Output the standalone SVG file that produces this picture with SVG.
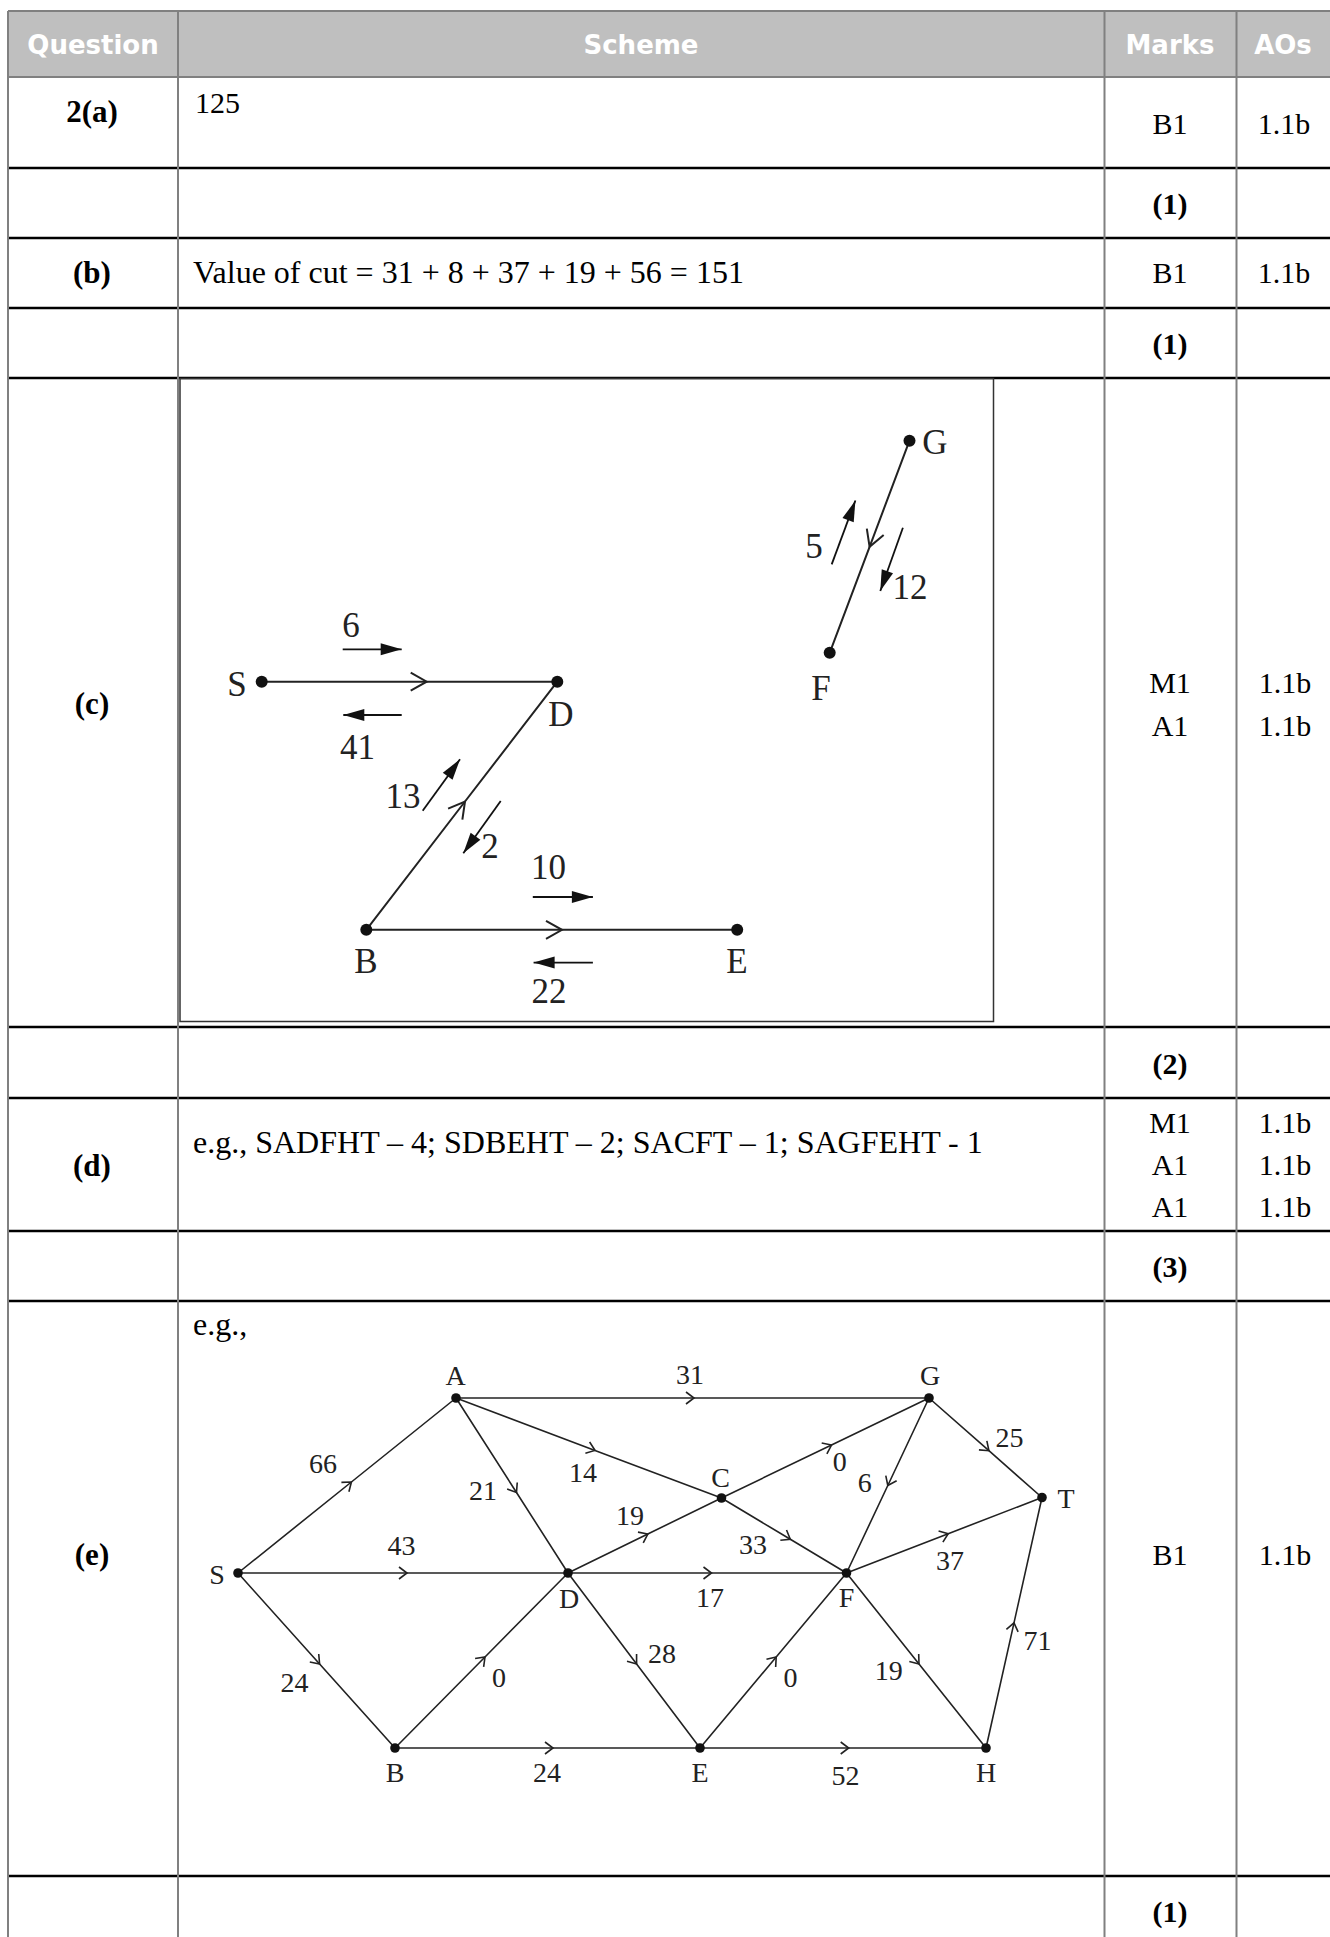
<svg xmlns="http://www.w3.org/2000/svg" width="1330" height="1937" viewBox="0 0 1330 1937">
<style>
.hd{font-family:"DejaVu Sans",sans-serif;font-size:26px;font-weight:bold;fill:#ffffff;text-anchor:middle}
.t{font-family:"Liberation Serif","Times New Roman",serif;font-size:32px;fill:#000}
.m{font-family:"Liberation Serif","Times New Roman",serif;font-size:30px;fill:#000;text-anchor:middle}
.q{font-family:"Liberation Serif","Times New Roman",serif;font-size:31px;font-weight:bold;fill:#000;text-anchor:middle}
.hl{stroke:#000;stroke-width:2.5}
.vl{stroke:#808080;stroke-width:2}
.gl{stroke:#808080;stroke-width:2}
.c{font-family:"Liberation Serif","Times New Roman",serif;font-size:35px;fill:#222;text-anchor:middle}
.e{font-family:"Liberation Serif","Times New Roman",serif;font-size:28px;fill:#222;text-anchor:middle}
.ce{fill:none;stroke:#222;stroke-width:2}
.ee{fill:none;stroke:#222;stroke-width:1.6}
.fa{fill:none;stroke:#111;stroke-width:1.8}
</style>
<defs>
<marker id="chevE" markerUnits="userSpaceOnUse" markerWidth="20" markerHeight="20" refX="0" refY="0" viewBox="-10 -10 20 20" orient="auto" overflow="visible">
<path d="M-8,-6 L0,0 L-8,6" fill="none" stroke="#222" stroke-width="1.6"/>
</marker>
<marker id="chevC" markerUnits="userSpaceOnUse" markerWidth="40" markerHeight="40" refX="0" refY="0" viewBox="-20 -20 40 40" orient="auto" overflow="visible">
<path d="M-16,-9 L0,0 L-16,9" fill="none" stroke="#222" stroke-width="2"/>
</marker>
<marker id="fill" markerUnits="userSpaceOnUse" markerWidth="40" markerHeight="40" refX="0" refY="0" viewBox="-20 -20 40 40" orient="auto" overflow="visible">
<path d="M0,0 L-21,-6 L-21,6 Z" fill="#111"/>
</marker>
</defs>

<g id="table">
<rect x="8" y="11" width="1322" height="66" fill="#bfbfbf"/>
<line class="gl" x1="8" y1="11" x2="1330" y2="11"/>
<line class="gl" x1="8" y1="77" x2="1330" y2="77"/>
<line class="hl" x1="8" y1="168" x2="1330" y2="168"/>
<line class="hl" x1="8" y1="238" x2="1330" y2="238"/>
<line class="hl" x1="8" y1="308" x2="1330" y2="308"/>
<line class="hl" x1="8" y1="378" x2="1330" y2="378"/>
<line class="hl" x1="8" y1="1027" x2="1330" y2="1027"/>
<line class="hl" x1="8" y1="1098" x2="1330" y2="1098"/>
<line class="hl" x1="8" y1="1231" x2="1330" y2="1231"/>
<line class="hl" x1="8" y1="1301" x2="1330" y2="1301"/>
<line class="hl" x1="8" y1="1876" x2="1330" y2="1876"/>
<line class="vl" x1="8" y1="11" x2="8" y2="1937"/>
<line class="vl" x1="178" y1="11" x2="178" y2="1937"/>
<line class="vl" x1="1104.5" y1="11" x2="1104.5" y2="1937"/>
<line class="vl" x1="1236.5" y1="11" x2="1236.5" y2="1937"/>
</g>

<g id="header">
<text class="hd" x="93" y="54">Question</text>
<text class="hd" x="641" y="54">Scheme</text>
<text class="hd" x="1170" y="54">Marks</text>
<text class="hd" x="1283" y="54">AOs</text>
</g>

<g id="row-a">
<text class="q" x="92" y="122">2(a)</text>
<text class="t" x="195" y="113" style="font-size:30px">125</text>
<text class="m" x="1170" y="134">B1</text>
<text class="m" x="1284" y="134">1.1b</text>
<text class="m" x="1170" y="214" font-weight="bold">(1)</text>
</g>

<g id="row-b">
<text class="q" x="92" y="283">(b)</text>
<text class="t" x="193" y="283">Value of cut = 31 + 8 + 37 + 19 + 56 = 151</text>
<text class="m" x="1170" y="283">B1</text>
<text class="m" x="1284" y="283">1.1b</text>
<text class="m" x="1170" y="354" font-weight="bold">(1)</text>
</g>

<g id="row-c">
<text class="q" x="92" y="714">(c)</text>
<text class="m" x="1170" y="693">M1</text>
<text class="m" x="1170" y="736">A1</text>
<text class="m" x="1285" y="693">1.1b</text>
<text class="m" x="1285" y="736">1.1b</text>
<text class="m" x="1170" y="1074" font-weight="bold">(2)</text>
<rect x="180" y="378.5" width="813.5" height="643" fill="none" stroke="#333" stroke-width="1.5"/>
</g>

<g id="c-connectors">
<path class="ce" d="M261.7,681.7 L426.7,681.7 L557.3,681.7" marker-mid="url(#chevC)"/>
<path class="ce" d="M366.3,929.8 L465,801.5 L557.3,681.7" marker-mid="url(#chevC)"/>
<path class="ce" d="M366.3,929.8 L562,929.8 L737.2,929.8" marker-mid="url(#chevC)"/>
<path class="ce" d="M909.5,440.7 L869.6,546.8 L829.7,652.8" marker-mid="url(#chevC)"/>
<line class="fa" x1="342.7" y1="649.3" x2="401.7" y2="649.3" marker-end="url(#fill)"/>
<line class="fa" x1="401.7" y1="715" x2="343.3" y2="715" marker-end="url(#fill)"/>
<line class="fa" x1="422.7" y1="810.7" x2="460" y2="759.3" marker-end="url(#fill)"/>
<line class="fa" x1="500.7" y1="801" x2="463.3" y2="853.3" marker-end="url(#fill)"/>
<line class="fa" x1="532.8" y1="897" x2="592.9" y2="897" marker-end="url(#fill)"/>
<line class="fa" x1="592.9" y1="962.6" x2="533.6" y2="962.6" marker-end="url(#fill)"/>
<line class="fa" x1="831.7" y1="564.4" x2="855.4" y2="500.5" marker-end="url(#fill)"/>
<line class="fa" x1="902.9" y1="527.8" x2="880.3" y2="591" marker-end="url(#fill)"/>
</g>

<g id="c-nodes">
<g id="c-S"><circle cx="261.7" cy="681.7" r="6" fill="#111"/><text class="c" x="237" y="696">S</text></g>
<g id="c-D"><circle cx="557.3" cy="681.7" r="6" fill="#111"/><text class="c" x="561" y="726">D</text></g>
<g id="c-B"><circle cx="366.3" cy="929.8" r="6" fill="#111"/><text class="c" x="366" y="973">B</text></g>
<g id="c-E"><circle cx="737.2" cy="929.8" r="6" fill="#111"/><text class="c" x="737" y="973">E</text></g>
<g id="c-G"><circle cx="909.5" cy="440.7" r="6" fill="#111"/><text class="c" x="935" y="454">G</text></g>
<g id="c-F"><circle cx="829.7" cy="652.8" r="6" fill="#111"/><text class="c" x="821" y="700">F</text></g>
</g>
<g id="c-labels">
<text class="c" x="351" y="637">6</text>
<text class="c" x="357.5" y="759">41</text>
<text class="c" x="403" y="808">13</text>
<text class="c" x="490" y="858">2</text>
<text class="c" x="548.5" y="879">10</text>
<text class="c" x="549" y="1003">22</text>
<text class="c" x="814" y="558">5</text>
<text class="c" x="910" y="599">12</text>
</g>

<g id="row-d">
<text class="q" x="92" y="1176">(d)</text>
<text class="t" x="193" y="1153">e.g., SADFHT – 4; SDBEHT – 2; SACFT – 1; SAGFEHT - 1</text>
<text class="m" x="1170" y="1133">M1</text>
<text class="m" x="1170" y="1175">A1</text>
<text class="m" x="1170" y="1217">A1</text>
<text class="m" x="1285" y="1133">1.1b</text>
<text class="m" x="1285" y="1175">1.1b</text>
<text class="m" x="1285" y="1217">1.1b</text>
<text class="m" x="1170" y="1277" font-weight="bold">(3)</text>
</g>

<g id="row-e">
<text class="q" x="92" y="1565">(e)</text>
<text class="t" x="193" y="1335">e.g.,</text>
<text class="m" x="1170" y="1565">B1</text>
<text class="m" x="1285" y="1565">1.1b</text>
<text class="m" x="1170" y="1922" font-weight="bold">(1)</text>
</g>

<g id="e-connectors">
<path class="ee" d="M238,1573 L351.4,1482 L456,1398" marker-mid="url(#chevE)"/>
<path class="ee" d="M238,1573 L407,1573 L568,1573" marker-mid="url(#chevE)"/>
<path class="ee" d="M238,1573 L319.6,1664 L395,1748" marker-mid="url(#chevE)"/>
<path class="ee" d="M456,1398 L694,1398 L929,1398" marker-mid="url(#chevE)"/>
<path class="ee" d="M456,1398 L595,1450.4 L721.5,1498" marker-mid="url(#chevE)"/>
<path class="ee" d="M456,1398 L516.5,1492.5 L568,1573" marker-mid="url(#chevE)"/>
<path class="ee" d="M568,1573 L647.8,1534 L721.5,1498" marker-mid="url(#chevE)"/>
<path class="ee" d="M568,1573 L711.5,1573 L846.5,1573" marker-mid="url(#chevE)"/>
<path class="ee" d="M568,1573 L636.6,1664 L700,1748" marker-mid="url(#chevE)"/>
<path class="ee" d="M395,1748 L485,1657 L568,1573" marker-mid="url(#chevE)"/>
<path class="ee" d="M395,1748 L553,1748 L700,1748" marker-mid="url(#chevE)"/>
<path class="ee" d="M721.5,1498 L831.5,1445 L929,1398" marker-mid="url(#chevE)"/>
<path class="ee" d="M721.5,1498 L790.3,1539.3 L846.5,1573" marker-mid="url(#chevE)"/>
<path class="ee" d="M929,1398 L887.8,1485.5 L846.5,1573" marker-mid="url(#chevE)"/>
<path class="ee" d="M929,1398 L988.9,1450.7 L1042,1497.5" marker-mid="url(#chevE)"/>
<path class="ee" d="M846.5,1573 L948.2,1533.7 L1042,1497.5" marker-mid="url(#chevE)"/>
<path class="ee" d="M846.5,1573 L919,1664 L986,1748" marker-mid="url(#chevE)"/>
<path class="ee" d="M700,1748 L776.2,1657 L846.5,1573" marker-mid="url(#chevE)"/>
<path class="ee" d="M700,1748 L848.7,1748 L986,1748" marker-mid="url(#chevE)"/>
<path class="ee" d="M986,1748 L1014,1622.8 L1042,1497.5" marker-mid="url(#chevE)"/>
</g>

<g id="e-nodes">
<g id="e-S"><circle cx="238" cy="1573" r="4.8" fill="#111"/><text class="e" x="217" y="1584">S</text></g>
<g id="e-A"><circle cx="456" cy="1398" r="4.8" fill="#111"/><text class="e" x="455.5" y="1385">A</text></g>
<g id="e-B"><circle cx="395" cy="1748" r="4.8" fill="#111"/><text class="e" x="395" y="1782">B</text></g>
<g id="e-C"><circle cx="721.5" cy="1498" r="4.8" fill="#111"/><text class="e" x="720.5" y="1487">C</text></g>
<g id="e-D"><circle cx="568" cy="1573" r="4.8" fill="#111"/><text class="e" x="569" y="1608">D</text></g>
<g id="e-E"><circle cx="700" cy="1748" r="4.8" fill="#111"/><text class="e" x="700" y="1782">E</text></g>
<g id="e-F"><circle cx="846.5" cy="1573" r="4.8" fill="#111"/><text class="e" x="846.6" y="1607">F</text></g>
<g id="e-G"><circle cx="929" cy="1398" r="4.8" fill="#111"/><text class="e" x="930" y="1385">G</text></g>
<g id="e-H"><circle cx="986" cy="1748" r="4.8" fill="#111"/><text class="e" x="986" y="1782">H</text></g>
<g id="e-T"><circle cx="1042" cy="1497.5" r="4.8" fill="#111"/><text class="e" x="1066" y="1508">T</text></g>
</g>

<g id="e-labels">
<text class="e" x="690" y="1384">31</text>
<text class="e" x="323" y="1473">66</text>
<text class="e" x="483" y="1500">21</text>
<text class="e" x="583" y="1482">14</text>
<text class="e" x="630" y="1525">19</text>
<text class="e" x="401.5" y="1555">43</text>
<text class="e" x="753" y="1554">33</text>
<text class="e" x="710" y="1607">17</text>
<text class="e" x="662" y="1663">28</text>
<text class="e" x="499" y="1687">0</text>
<text class="e" x="294.4" y="1692">24</text>
<text class="e" x="547" y="1782">24</text>
<text class="e" x="1009.4" y="1447">25</text>
<text class="e" x="839.8" y="1471">0</text>
<text class="e" x="864.7" y="1492">6</text>
<text class="e" x="950" y="1570">37</text>
<text class="e" x="1037.5" y="1650">71</text>
<text class="e" x="790.4" y="1687">0</text>
<text class="e" x="888.8" y="1680">19</text>
<text class="e" x="845.4" y="1785">52</text>
</g>
</svg>
